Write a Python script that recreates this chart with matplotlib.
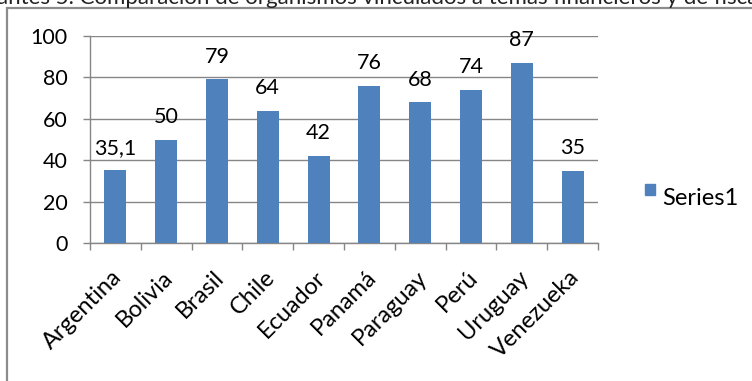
import matplotlib
matplotlib.use("Agg")
import matplotlib.pyplot as plt
from matplotlib.patches import Rectangle
from matplotlib.transforms import ScaledTranslation

countries = ["Argentina", "Bolivia", "Brasil", "Chile", "Ecuador",
             "Panamá", "Paraguay", "Perú", "Uruguay", "Venezueka"]
values = [35.1, 50, 79, 64, 42, 76, 68, 74, 87, 35]
value_labels = ["35,1", "50", "79", "64", "42", "76", "68", "74", "87", "35"]
yticks = [0, 20, 40, 60, 80, 100]
series_name = "Series1"
caption = "antes 5. Comparación de organismos vinculados a temas financieros y de fiscalización"

plt.rcParams["font.family"] = ["Lato", "DejaVu Sans"]

W, H = 752, 381
fig = plt.figure(figsize=(W / 100, H / 100), dpi=100)

def fx(px):
    return px / W

def fy(py):
    return 1 - py / H

# chart frame (runs off the right and bottom edges)
fig.patches.append(Rectangle((fx(7), -0.2), 1.2, fy(8) + 0.2,
                             transform=fig.transFigure, fill=False,
                             edgecolor="#8c8c8c", lw=1.6, zorder=0))

# caption line sitting just above the chart frame
fig.text(fx(-3), fy(4), caption, fontsize=16, color="#222222",
         ha="left", va="baseline")

ax = fig.add_axes([fx(90), fy(243), fx(598) - fx(90), fy(36) - fy(243)])
grid_col = "#868686"
x = list(range(len(countries)))
bars = ax.bar(x, values, width=0.43, color="#4F81BD", zorder=3, label=series_name)

ax.set_xlim(-0.5, len(countries) - 0.5)
ax.set_ylim(0, 100)
ax.set_yticks(yticks)
ax.set_yticklabels([str(t) for t in yticks], fontsize=15.5)
ax.yaxis.grid(True, color=grid_col, lw=1.0, zorder=0)
ax.set_axisbelow(True)

for s in ["top", "right"]:
    ax.spines[s].set_visible(False)
for s in ["left", "bottom"]:
    ax.spines[s].set_color(grid_col)
    ax.spines[s].set_linewidth(1.0)

ax.tick_params(axis="y", length=5, width=1.0, color=grid_col, pad=11)
ax.set_xticks([i - 0.5 for i in range(len(countries) + 1)], minor=False)
ax.set_xticklabels([])
ax.tick_params(axis="x", which="major", length=5, width=1.0, color=grid_col)
ax.set_xticks(x, minor=True)
ax.set_xticklabels(countries, minor=True, rotation=45, ha="right",
                   rotation_mode="anchor", fontsize=17)
ax.tick_params(axis="x", which="minor", length=0, pad=17)
shift = ScaledTranslation(-4 / 100, 0, fig.dpi_scale_trans)
for lbl in ax.get_xticklabels(minor=True):
    lbl.set_transform(lbl.get_transform() + shift)

for b, lab in zip(bars, value_labels):
    ax.annotate(lab, (b.get_x() + b.get_width() / 2, b.get_height()),
                xytext=(0, 12), textcoords="offset points",
                ha="center", va="baseline", fontsize=15.5)

# legend
fig.patches.append(Rectangle((fx(645), fy(195)), fx(10), fy(184) - fy(195),
                             transform=fig.transFigure, color="#4F81BD"))
fig.text(fx(662), fy(205), series_name, fontsize=17, ha="left", va="baseline")

fig.savefig("out.png", dpi=100)
